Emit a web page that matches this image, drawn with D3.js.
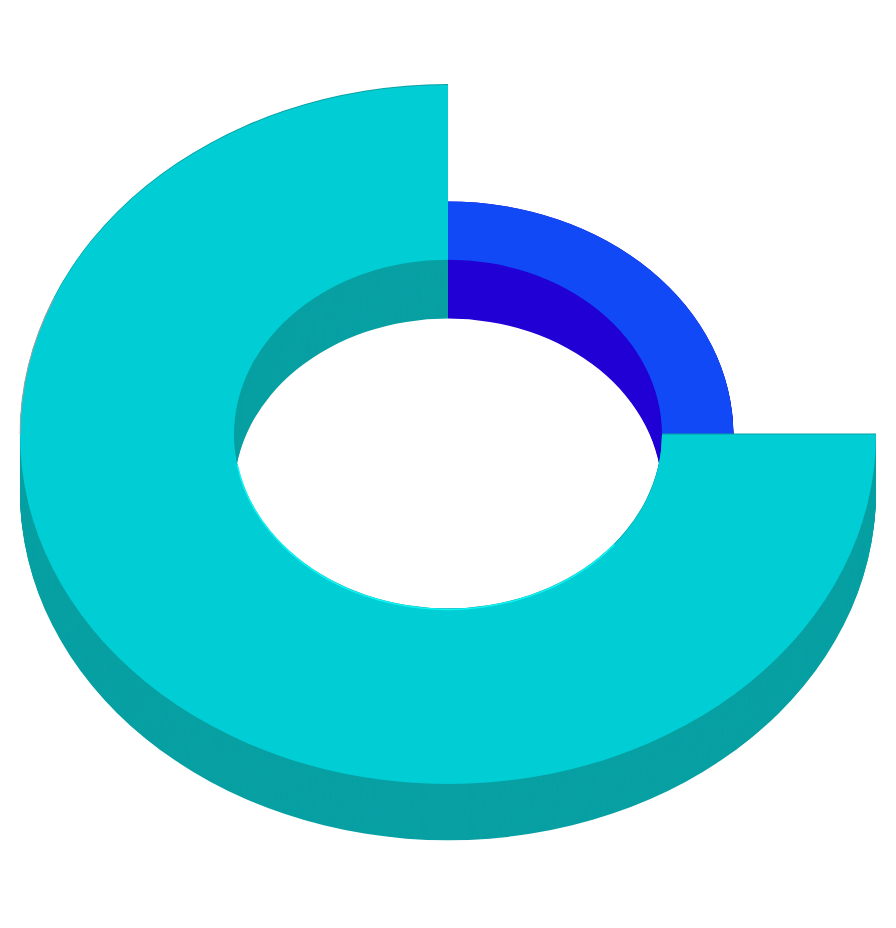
<!DOCTYPE html>
<html>
<head>
<meta charset="utf-8">
<script src="https://cdn.jsdelivr.net/npm/d3@7"></script>
<style>
  body { margin: 0; background: #fff; }
  svg { display: block; }
</style>
</head>
<body>
<div id="chart"></div>
<script>
const categories = ["a", "b"];
const values = [25, 75];
const topColors = ["#1049f5", "#00ced4"];
const wallColors = ["#2200d5", "#08a0a3"];

const w = 896;
const h = 928;
const cx = 448;
const cy = 434.5;
const squashTop = 349.5 / 428;
const squashBottom = 347.8 / 428;
const depth = 58;

const svg = d3.select("#chart")
              .append("svg")
              .attr("width", w)
              .attr("height", h);

// radius grows with the value, same as the slice angle
const radius = d3.scaleLinear().domain([0, d3.max(values)]).range([214, 428]);

const pie = d3.pie().sort(null).value(d => d);
const slices = pie(values);

const arc = d3.arc()
              .innerRadius(radius(0))
              .outerRadius(d => radius(d.data));

// lower rings get a touch flatter, like the perspective in the picture
const squash = d3.scaleLinear().domain([0, depth]).range([squashTop, squashBottom]);
const place = offset => `translate(${cx},${cy + offset}) scale(1,${squash(offset)})`;

slices.forEach((s, i) => {
  const g = svg.append("g").attr("class", "slice-" + categories[i]);

  // walls: same ring repeated downward, the big slice pokes out 1px on top
  const first = i === 1 ? -1 : 0;
  g.selectAll("path.wall")
   .data(d3.range(depth, first - 1, -1))
   .enter()
   .append("path")
   .attr("class", "wall")
   .attr("d", arc(s))
   .attr("transform", d => place(d))
   .attr("fill", wallColors[i]);

  g.append("path")
   .attr("class", "top")
   .attr("d", arc(s))
   .attr("transform", place(0))
   .attr("fill", topColors[i]);
});

const deg = Math.PI / 180;

// bright rim along the front of the hole
const rim = d3.arc()
              .innerRadius(radius(0))
              .outerRadius(radius(0))
              .startAngle(129 * deg)
              .endAngle(260 * deg);

svg.append("path")
   .attr("d", rim())
   .attr("transform", place(0))
   .attr("fill", "none")
   .attr("stroke", "#12f4f4")
   .attr("stroke-width", 1.5)
   .attr("vector-effect", "non-scaling-stroke");

// faint pink edge on the far left of the outer ring
const edge = d3.arc()
               .innerRadius(radius(75))
               .outerRadius(radius(75))
               .startAngle(270 * deg)
               .endAngle(293 * deg);

svg.append("path")
   .attr("d", edge())
   .attr("transform", place(0))
   .attr("fill", "none")
   .attr("stroke", "#e89a9a")
   .attr("stroke-opacity", 0.6)
   .attr("stroke-width", 0.7)
   .attr("vector-effect", "non-scaling-stroke");
</script>
</body>
</html>
